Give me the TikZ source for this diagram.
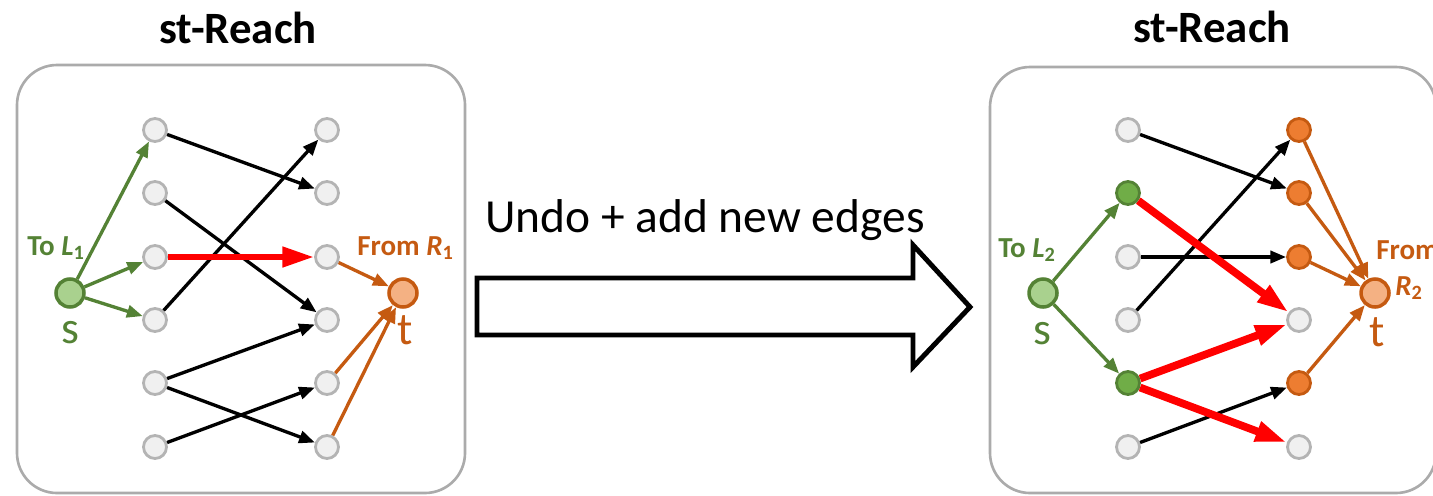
\documentclass[tikz,border=0pt]{standalone}
\usepackage{fontspec}
\setmainfont{Carlito}
\usetikzlibrary{
    arrows.meta,
    positioning
}
\definecolor{srcgreen}{HTML}{548235}
\definecolor{srcfill}{HTML}{A9D18E}
\definecolor{lgreen}{HTML}{70AD47}
\definecolor{snkorange}{HTML}{C55A11}
\definecolor{snkfill}{HTML}{F4B183}
\definecolor{rorange}{HTML}{ED7D31}
\definecolor{vgray}{HTML}{B4B4B4}
\definecolor{vfill}{HTML}{F0F0F0}
\definecolor{boxgray}{HTML}{ABABAB}
\tikzset{
    % --- Plain vertex (grey ring) ---
    vertex/.style = {
        circle, draw=vgray, fill=vfill, line width=1.6pt,
        minimum size=0.46cm, inner sep=0pt
    },
    % --- Vertex in L (reached from s) ---
    l vertex/.style = {
        vertex, draw=srcgreen, fill=lgreen
    },
    % --- Vertex in R (reaches t) ---
    r vertex/.style = {
        vertex, draw=snkorange, fill=rorange
    },
    % --- Source s ---
    source/.style = {
        circle, draw=srcgreen, fill=srcfill, line width=2pt,
        minimum size=0.56cm, inner sep=0pt
    },
    % --- Sink t ---
    sink/.style = {
        circle, draw=snkorange, fill=snkfill, line width=2pt,
        minimum size=0.56cm, inner sep=0pt
    },
    % --- Rounded panel frame ---
    panel/.style = {
        draw=boxgray, line width=1.5pt, rounded corners=0.8cm
    },
    % --- Panel title ---
    title/.style = {
        font=\bfseries\fontsize{25.5}{30}\selectfont, inner sep=0pt
    },
    % --- s / t letters ---
    end label/.style = {
        font=\fontsize{26}{30}\selectfont, inner sep=0pt
    },
    % --- To L / From R labels ---
    side label/.style = {
        font=\bfseries\fontsize{16.5}{20}\selectfont, inner sep=0pt
    },
    % --- Ordinary edge ---
    edge/.style = {
        -{Triangle[length=9pt,width=7pt]}, line width=1.9pt, black
    },
    % --- Edge leaving s ---
    src edge/.style = {
        edge, srcgreen
    },
    % --- Edge into t ---
    snk edge/.style = {
        edge, snkorange
    },
    % --- Highlighted (new) edge ---
    hot edge/.style = {
        -{Triangle[length=18pt,width=11pt]}, line width=3.6pt, red
    }
}

\begin{document}
\begin{tikzpicture}[x=0.02cm, y=-0.02cm, line join=miter]

\useasboundingbox (0,0) rectangle (1433,495);

% ---------------------------------------------------------
% Left panel
% ---------------------------------------------------------
\draw[panel] (17,65) rectangle (465,493);
\node[title, anchor=base] (aTitle) at (238,43) {st-Reach};

\node[vertex] (aL1) at (155,130) {};
\node[vertex] (aL2) at (155,193) {};
\node[vertex] (aL3) at (155,257) {};
\node[vertex] (aL4) at (155,320) {};
\node[vertex] (aL5) at (155,383) {};
\node[vertex] (aL6) at (155,447) {};

\node[vertex] (aR1) at (327,130) {};
\node[vertex] (aR2) at (327,193) {};
\node[vertex] (aR3) at (327,257) {};
\node[vertex] (aR4) at (327,320) {};
\node[vertex] (aR5) at (327,383) {};
\node[vertex] (aR6) at (327,447) {};

\node[source] (aS) at (70,293) {};
\node[sink] (aT) at (403,293) {};
\node[end label, text=srcgreen] (aSLab) at (70,333) {s};
\node[end label, text=snkorange] (aTLab) at (405,330) {t};
\node[side label, text=srcgreen, anchor=base west] (aTo) at (27,255)
    {To \textit{L}\textsubscript{1}};
\node[side label, text=snkorange, anchor=base west] (aFrom) at (357,255)
    {From \textit{R}\textsubscript{1}};

% edges
\draw[src edge] (aS) -- (aL1);
\draw[src edge] (aS) -- (aL3);
\draw[src edge] (aS) -- (aL4);
\draw[edge] (aL1) -- (aR2);
\draw[edge] (aL2) -- (aR4);
\draw[edge] (aL4) -- (aR1);
\draw[edge] (aL5) -- (aR4);
\draw[edge] (aL5) -- (aR6);
\draw[edge] (aL6) -- (aR5);
\draw[hot edge] (aL3) -- (aR3);
\draw[snk edge] (aR3) -- (aT);
\draw[snk edge] (aR5) -- (aT);
\draw[snk edge] (aR6) -- (aT);

% ---------------------------------------------------------
% Transition arrow
% ---------------------------------------------------------
\draw[line width=2.8pt, fill=white]
    (477,278) -- (913,278) -- (913,245) -- (970,307)
    -- (913,367) -- (913,335) -- (477,335) -- cycle;
\node[font=\fontsize{27}{32}\selectfont, inner sep=0pt, anchor=base west]
    (undo) at (485,232) {Undo + add new edges};

% ---------------------------------------------------------
% Right panel
% ---------------------------------------------------------
\draw[panel] (990,67) rectangle (1436,493);
\node[title, anchor=base] (bTitle) at (1212,42) {st-Reach};

\node[vertex] (bL1) at (1128,130) {};
\node[l vertex] (bL2) at (1128,193) {};
\node[vertex] (bL3) at (1128,257) {};
\node[vertex] (bL4) at (1128,320) {};
\node[l vertex] (bL5) at (1128,383) {};
\node[vertex] (bL6) at (1128,447) {};

\node[r vertex] (bR1) at (1299,130) {};
\node[r vertex] (bR2) at (1299,193) {};
\node[r vertex] (bR3) at (1299,257) {};
\node[vertex] (bR4) at (1299,320) {};
\node[r vertex] (bR5) at (1299,383) {};
\node[vertex] (bR6) at (1299,447) {};

\node[source] (bS) at (1043,293) {};
\node[sink] (bT) at (1375,293) {};
\node[end label, text=srcgreen] (bSLab) at (1042,334) {s};
\node[end label, text=snkorange] (bTLab) at (1377,332) {t};
\node[side label, text=srcgreen, anchor=base west] (bTo) at (998,257)
    {To \textit{L}\textsubscript{2}};
\node[side label, text=snkorange, anchor=base west] (bFrom) at (1376,259) {From};
\node[side label, text=snkorange, anchor=base west] (bR) at (1395,295)
    {\textit{R}\textsubscript{2}};

% edges
\draw[src edge] (bS) -- (bL2);
\draw[src edge] (bS) -- (bL5);
\draw[edge] (bL1) -- (bR2);
\draw[edge] (bL3) -- (bR3);
\draw[edge] (bL4) -- (bR1);
\draw[edge] (bL6) -- (bR5);
\draw[hot edge, line width=4.4pt] (bL2) -- (bR4);
\draw[hot edge, line width=4.4pt] (bL5) -- (bR4);
\draw[hot edge, line width=4.4pt] (bL5) -- (bR6);
\draw[snk edge] (bR1) -- (bT);
\draw[snk edge] (bR2) -- (bT);
\draw[snk edge] (bR3) -- (bT);
\draw[snk edge] (bR5) -- (bT);

\end{tikzpicture}
\end{document}
